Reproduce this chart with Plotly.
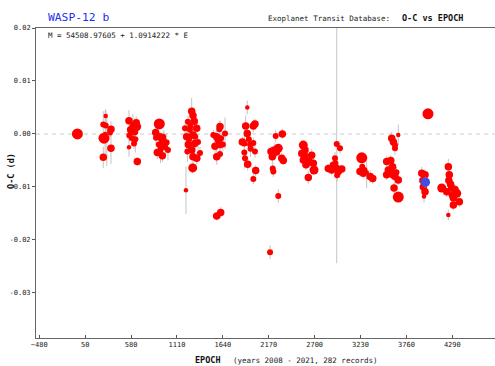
import plotly.graph_objects as go

# Exoplanet Transit Database: WASP-12 b transit timing residuals
# epoch, O-C (days), timing uncertainty (days), data quality (1 = best ... 5 = worst)
epoch = [
    -40,
    287, 259, 287, 348, 337, 267, 348, 259, 280, 300,
    556, 645, 640, 575, 600, 560, 620, 590, 614, 556, 652, 600, 630,
    906, 864, 868, 914, 940, 960, 991, 900, 930, 975, 1006, 883, 941, 920, 950,
    1280, 1295, 1237, 1310, 1203, 1338, 1260, 1222, 1295, 1353, 1241, 1315, 1280,
    1376, 1295, 1338, 1250, 1230, 1320, 1265, 1292, 1214,
    1607, 1600, 1530, 1569, 1620, 1665, 1607, 1549, 1640, 1569, 1607, 1580, 1569, 1615,
    1922, 2011, 1992, 1904, 1922, 1865, 1890, 1954, 1992, 2011, 1888, 1896, 1927,
    2019, 1992, 1960, 1940,
    2250, 2327, 2234, 2280, 2196, 2211, 2320, 2338, 2260, 2216, 2223, 2280, 2185,
    2569, 2589, 2551, 2589, 2569, 2615, 2666, 2685, 2693, 2627, 2640, 2600,
    2955, 2993, 2935, 2858, 2916, 2955, 3013, 2973, 2897, 2940, 2960,
    3244, 3224, 3262, 3275, 3340, 3371, 3250, 3301,
    3590, 3609, 3628, 3666, 3628, 3532, 3579, 3551, 3600, 3532, 3609, 3628, 3666,
    3617, 3666, 3645,
    3937, 3975, 3955, 3975, 3963, 3950, 4009,
    4244, 4255, 4250, 4168, 4226, 4283, 4321, 4341, 4302, 4371, 4302, 4244, 4270, 4290,
]
o_c = [
    0.0000,
    0.0034, 0.0018, 0.0016, 0.0009, 0.0003, -0.0008, -0.0027, -0.0044, 0.0000, -0.0010,
    0.0025, 0.0014, 0.0021, 0.0008, 0.0012, -0.0003, 0.0004, -0.0008, -0.0018, -0.0025, -0.0052, 0.0018, -0.0010,
    0.0019, 0.0003, -0.0007, -0.0005, -0.0010, -0.0013, -0.0016, -0.0020, -0.0022, -0.0025, -0.0030, -0.0035, -0.0041, -0.0030, -0.0005,
    0.0043, 0.0035, 0.0023, 0.0024, 0.0011, 0.0011, 0.0008, -0.0005, -0.0002, -0.0015, -0.0020, -0.0018, -0.0030,
    -0.0036, -0.0043, -0.0046, -0.0010, -0.0033, -0.0005, 0.0015, -0.0064, -0.0106,
    0.0014, 0.0009, -0.0002, -0.0005, -0.0008, 0.0001, -0.0020, -0.0023, -0.0020, -0.0043, -0.0038, -0.0012, -0.0155, -0.0148,
    0.0050, 0.0019, 0.0015, 0.0015, 0.0001, -0.0015, -0.0018, -0.0020, -0.0017, -0.0033, -0.0035, -0.0046, -0.0057,
    -0.0069, -0.0085, -0.0028, -0.0010,
    -0.0004, 0.0000, -0.0030, -0.0027, -0.0033, -0.0043, -0.0046, -0.0050, -0.0034, -0.0065, -0.0071, -0.0117, -0.0223,
    -0.0021, -0.0030, -0.0037, -0.0042, -0.0049, -0.0051, -0.0040, -0.0055, -0.0068, -0.0082, -0.0053, -0.0058,
    -0.0019, -0.0027, -0.0046, -0.0065, -0.0059, -0.0065, -0.0066, -0.0071, -0.0068, -0.0055, -0.0078,
    -0.0045, -0.0071, -0.0074, -0.0068, -0.0080, -0.0084, -0.0062, -0.0072,
    -0.0008, -0.0015, -0.0021, -0.0002, -0.0027, -0.0052, -0.0050, -0.0068, -0.0062, -0.0077, -0.0076, -0.0080, -0.0087,
    -0.0102, -0.0119, -0.0072,
    -0.0074, -0.0077, -0.0100, -0.0109, -0.0118, -0.0088, 0.0038,
    -0.0062, -0.0077, -0.0088, -0.0102, -0.0109, -0.0102, -0.0105, -0.0112, -0.0121, -0.0128, -0.0134, -0.0153, -0.0095, -0.0115,
]
o_c_err = [
    0.0006,
    0.0012, 0.0025, 0.0030, 0.0015, 0.0010, 0.0008, 0.0030, 0.0020, 0.0045, 0.0050,
    0.0020, 0.0010, 0.0012, 0.0015, 0.0010, 0.0012, 0.0025, 0.0015, 0.0010, 0.0018, 0.0008, 0.0020, 0.0025,
    0.0008, 0.0012, 0.0015, 0.0010, 0.0012, 0.0020, 0.0018, 0.0012, 0.0010, 0.0015, 0.0020, 0.0012, 0.0012, 0.0025, 0.0010,
    0.0025, 0.0015, 0.0012, 0.0020, 0.0015, 0.0012, 0.0010, 0.0030, 0.0012, 0.0015, 0.0010, 0.0020, 0.0012,
    0.0012, 0.0015, 0.0012, 0.0015, 0.0020, 0.0025, 0.0010, 0.0010, 0.0045,
    0.0012, 0.0015, 0.0010, 0.0015, 0.0020, 0.0030, 0.0012, 0.0025, 0.0012, 0.0015, 0.0010, 0.0010, 0.0008, 0.0010,
    0.0013, 0.0010, 0.0012, 0.0020, 0.0012, 0.0010, 0.0025, 0.0012, 0.0010, 0.0012, 0.0030, 0.0012, 0.0012,
    0.0010, 0.0010, 0.0015, 0.0010,
    0.0012, 0.0010, 0.0012, 0.0008, 0.0010, 0.0012, 0.0010, 0.0008, 0.0010, 0.0012, 0.0010, 0.0013, 0.0013,
    0.0008, 0.0010, 0.0010, 0.0008, 0.0010, 0.0010, 0.0012, 0.0010, 0.0008, 0.0012, 0.0010, 0.0010,
    0.0225, 0.0010, 0.0012, 0.0008, 0.0010, 0.0010, 0.0008, 0.0010, 0.0010, 0.0010, 0.0012,
    0.0008, 0.0010, 0.0010, 0.0010, 0.0012, 0.0010, 0.0012, 0.0030,
    0.0012, 0.0010, 0.0010, 0.0020, 0.0012, 0.0010, 0.0010, 0.0012, 0.0012, 0.0010, 0.0008, 0.0015, 0.0010,
    0.0010, 0.0008, 0.0010,
    0.0012, 0.0010, 0.0010, 0.0010, 0.0012, 0.0010, 0.0006,
    0.0015, 0.0020, 0.0012, 0.0008, 0.0010, 0.0010, 0.0010, 0.0008, 0.0010, 0.0010, 0.0010, 0.0010, 0.0012, 0.0010,
]
quality = [
    1,
    5, 4, 4, 3, 4, 1, 3, 3, 5, 5,
    3, 2, 3, 3, 3, 4, 3, 4, 4, 5, 3, 4, 4,
    1, 3, 4, 3, 3, 4, 4, 4, 3, 4, 4, 3, 3, 4, 4,
    3, 3, 4, 3, 4, 3, 4, 3, 3, 4, 3, 3, 3,
    4, 3, 3, 4, 4, 4, 4, 2, 5,
    3, 4, 4, 3, 4, 4, 3, 3, 4, 3, 4, 4, 3, 3,
    5, 3, 3, 3, 3, 3, 4, 4, 4, 4, 4, 4, 3,
    3, 4, 4, 4,
    4, 3, 3, 2, 3, 3, 3, 3, 3, 4, 4, 4, 4,
    2, 3, 3, 3, 3, 3, 3, 3, 2, 3, 3, 3,
    4, 4, 4, 3, 3, 3, 3, 3, 3, 4, 4,
    1, 3, 3, 4, 3, 3, 4, 5,
    3, 3, 4, 5, 4, 3, 3, 3, 3, 3, 2, 3, 3,
    3, 1, 4,
    3, 3, 3, 3, 5, 3, 1,
    3, 3, 3, 2, 3, 3, 3, 2, 3, 3, 3, 5, 3, 3,
]

# highlighted observation (blue)
own_epoch = [3978]
own_o_c = [-0.0091]
own_err = [0.0010]

x_ticks = [-480, 50, 580, 1110, 1640, 2170, 2700, 3230, 3760, 4290]
y_ticks = [0.02, 0.01, 0.00, -0.01, -0.02, -0.03]
y_tick_labels = ["0.02", "0.01", "0.00", "-0.01", "-0.02", "-0.03"]

# marker diameter by data quality
dq_size = {1: 11, 2: 9, 3: 7.5, 4: 6, 5: 4.5}
sizes = [dq_size[q] for q in quality]

MONO = "DejaVu Sans Mono"
ERR_COLOR = "#c4c4c4"

fig = go.Figure()

fig.add_trace(go.Scatter(
    x=epoch, y=o_c, mode="markers",
    marker=dict(color="#ff0000", size=sizes, opacity=1, line=dict(width=0)),
    error_y=dict(type="data", array=o_c_err, color=ERR_COLOR, thickness=1, width=0),
    showlegend=False, hoverinfo="x+y",
))
fig.add_trace(go.Scatter(
    x=own_epoch, y=own_o_c, mode="markers",
    marker=dict(color="#3f4fe0", size=9.5, opacity=1, line=dict(width=0)),
    error_y=dict(type="data", array=own_err, color=ERR_COLOR, thickness=1, width=0),
    showlegend=False, hoverinfo="x+y",
))

# zero line
fig.add_shape(type="line", xref="paper", yref="y", x0=0, x1=1, y0=0, y1=0,
              line=dict(color="#cccccc", width=1.2, dash="4px,4px"), layer="below")

txt = dict(family=MONO, size=7.5, color="#222222")
ann = [
    dict(text="WASP-12 b", x=0.022, y=1.035, font=dict(family=MONO, size=11.3, color="#1a2ff0")),
    dict(text="Exoplanet Transit Database:", x=0.501, y=1.032, font=txt),
    dict(text="<b>O-C vs EPOCH</b>", x=0.793, y=1.032, font=dict(family=MONO, size=8.5, color="#111111")),
    dict(text="M = 54508.97605 + 1.0914222 * E", x=0.022, y=0.977, font=txt),
    dict(text="<b>EPOCH</b>", x=0.342, y=-0.071, font=dict(family=MONO, size=8.5, color="#111111")),
    dict(text="(years 2008 - 2021, 282 records)", x=0.424, y=-0.071, font=txt),
]
annotations = [dict(a, xref="paper", yref="paper", xanchor="left", yanchor="middle",
                    showarrow=False) for a in ann]
annotations.append(dict(text="<b>O-C (d)</b>", xref="paper", yref="paper", x=-0.0545, y=0.539,
                        textangle=-90, xanchor="center", yanchor="middle", showarrow=False,
                        font=dict(family=MONO, size=8.5, color="#111111")))

fig.update_layout(
    width=495, height=366,
    margin=dict(l=36, r=0, t=28, b=28),
    paper_bgcolor="white", plot_bgcolor="white",
    annotations=annotations,
    xaxis=dict(
        range=[-518, 4783], tickvals=x_ticks,
        ticks="inside", ticklen=3, tickcolor="#555555",
        showline=True, linecolor="#666666", linewidth=1, mirror=True,
        showgrid=False, zeroline=False,
        tickfont=dict(family=MONO, size=7, color="#222222"),
    ),
    yaxis=dict(
        range=[-0.0385, 0.0200], tickvals=y_ticks, ticktext=y_tick_labels,
        ticks="outside", ticklen=3, tickcolor="#555555",
        showline=True, linecolor="#666666", linewidth=1,
        showgrid=False, zeroline=False,
        tickfont=dict(family=MONO, size=7, color="#222222"),
    ),
)

fig.write_html("out.html")
